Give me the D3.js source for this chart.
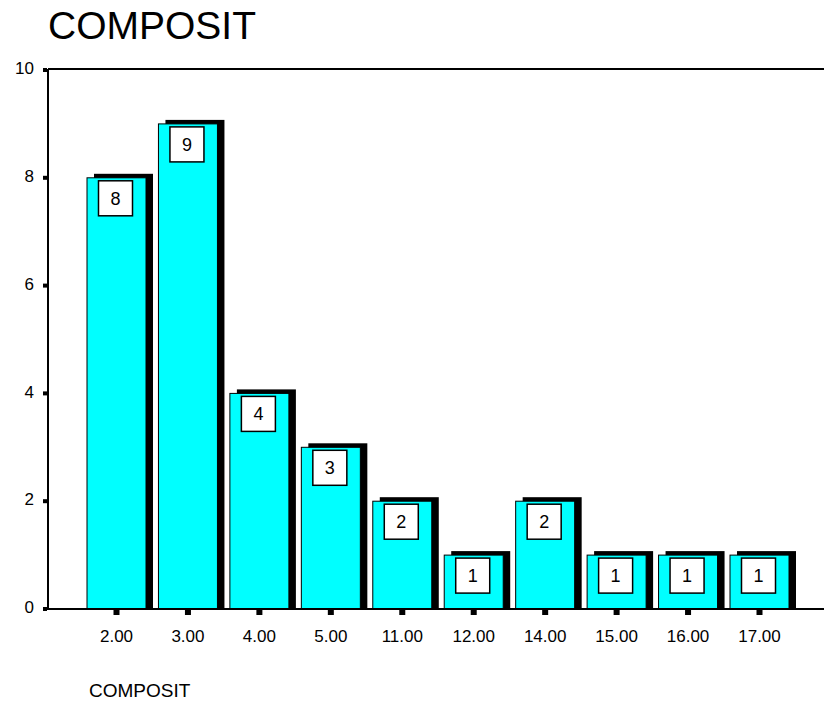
<!DOCTYPE html>
<html>
<head>
<meta charset="utf-8">
<script src="https://cdn.jsdelivr.net/npm/d3@7"></script>
<style>
  body { margin: 0; background: #fff; }
  text { font-family: 'Liberation Sans', Arial, sans-serif; fill: #000; }
</style>
</head>
<body>
<div id="chart"></div>
<script>
(function() {
  let width = 824,
  height = 715

  // data
  let categories = ['2.00', '3.00', '4.00', '5.00', '11.00', '12.00', '14.00', '15.00', '16.00', '17.00']
  let counts = [8, 9, 4, 3, 2, 1, 2, 1, 1, 1]
  let yTicks = [0, 2, 4, 6, 8, 10]

  let data = categories.map((c, i) => ({ cat: c, value: counts[i] }))

  let left = 48, top = 70, bottom = 609
  let barW = 59, shX = 7, shY = 4

  let svg = d3.select('#chart')
    .append('svg')
    .attr('width', width)
    .attr('height', height)

  let x = d3.scalePoint()
    .domain(categories)
    .range([116.5, 759.5])

  let y = d3.scaleLinear()
    .domain([0, 10])
    .range([bottom, top])

  // title
  svg.append('text')
    .attr('x', 48)
    .attr('y', 39)
    .style('font-size', '39px')
    .text('COMPOSIT')

  // shadows
  svg.selectAll('.shadow')
    .data(data)
    .enter()
    .append('rect')
    .attr('class', 'shadow')
    .attr('x', (d) => x(d.cat) - barW / 2 + shX)
    .attr('y', (d) => y(d.value) - shY)
    .attr('width', barW)
    .attr('height', (d) => bottom - y(d.value) + shY)
    .attr('fill', '#000')

  // bars
  svg.selectAll('.bar')
    .data(data)
    .enter()
    .append('rect')
    .attr('class', 'bar')
    .attr('x', (d) => x(d.cat) - barW / 2)
    .attr('y', (d) => y(d.value))
    .attr('width', barW)
    .attr('height', (d) => bottom - y(d.value))
    .attr('fill', '#00ffff')
    .attr('stroke', '#000')
    .attr('stroke-width', 1)

  // value boxes
  let boxW = 34, boxH = 35
  svg.selectAll('.box')
    .data(data)
    .enter()
    .append('rect')
    .attr('class', 'box')
    .attr('x', (d) => x(d.cat) - 1 - boxW / 2)
    .attr('y', (d) => y(d.value) + 3)
    .attr('width', boxW)
    .attr('height', boxH)
    .attr('fill', '#fff')
    .attr('stroke', '#000')
    .attr('stroke-width', 1.5)

  svg.selectAll('.val')
    .data(data)
    .enter()
    .append('text')
    .attr('class', 'val')
    .attr('x', (d) => x(d.cat) - 1)
    .attr('y', (d) => y(d.value) + 3 + boxH / 2)
    .attr('dy', '0.36em')
    .attr('text-anchor', 'middle')
    .style('font-size', '18px')
    .text((d) => d.value)

  // frame: left axis, top line, baseline
  svg.append('line')
    .attr('x1', left).attr('x2', left)
    .attr('y1', top - 1).attr('y2', bottom + 1)
    .attr('stroke', '#000').attr('stroke-width', 2)
  svg.append('line')
    .attr('x1', left).attr('x2', width)
    .attr('y1', top - 1).attr('y2', top - 1)
    .attr('stroke', '#000').attr('stroke-width', 2)
  svg.append('line')
    .attr('x1', left).attr('x2', width)
    .attr('y1', bottom).attr('y2', bottom)
    .attr('stroke', '#000').attr('stroke-width', 2)

  // y ticks
  svg.selectAll('.ytick')
    .data(yTicks)
    .enter()
    .append('rect')
    .attr('class', 'ytick')
    .attr('x', left - 5)
    .attr('y', (d) => y(d) - 2)
    .attr('width', 4)
    .attr('height', 4)
    .attr('fill', '#000')

  svg.selectAll('.ylab')
    .data(yTicks)
    .enter()
    .append('text')
    .attr('class', 'ylab')
    .attr('x', 34)
    .attr('y', (d) => y(d) - 2)
    .attr('dy', '0.36em')
    .attr('text-anchor', 'end')
    .style('font-size', '17px')
    .text((d) => d)

  // x ticks
  svg.selectAll('.xtick')
    .data(categories)
    .enter()
    .append('rect')
    .attr('class', 'xtick')
    .attr('x', (d) => x(d) - 3)
    .attr('y', bottom + 1)
    .attr('width', 6)
    .attr('height', 5)
    .attr('fill', '#000')

  svg.selectAll('.xlab')
    .data(categories)
    .enter()
    .append('text')
    .attr('class', 'xlab')
    .attr('x', (d) => x(d))
    .attr('y', 636)
    .attr('dy', '0.36em')
    .attr('text-anchor', 'middle')
    .style('font-size', '17px')
    .text((d) => d)

  // axis title
  svg.append('text')
    .attr('x', 89)
    .attr('y', 697)
    .style('font-size', '19px')
    .text('COMPOSIT')
})()
</script>
</body>
</html>
